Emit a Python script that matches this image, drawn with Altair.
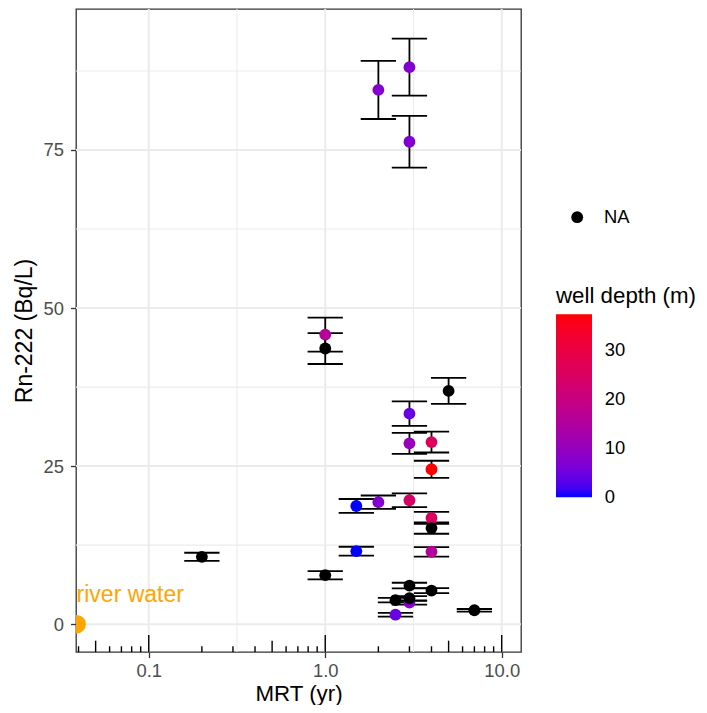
import altair as alt
import pandas as pd

# ---- data ----
mrt = [2.0, 3.0, 3.0, 1.0, 1.0, 5.0, 3.0, 3.0, 4.0, 4.0, 1.5, 2.0, 3.0, 4.0, 4.0,
       1.5, 4.0, 0.2, 1.0, 3.0, 4.0, 2.5, 3.0, 3.0, 2.5, 7.0]
rn = [84.5, 88.1, 76.3, 45.8, 43.6, 36.9, 33.3, 28.6, 28.8, 24.5, 18.7, 19.3, 19.6, 16.8, 15.2,
      11.55, 11.45, 10.65, 7.75, 6.1, 5.3, 3.8, 4.1, 3.4, 1.5, 2.2]
rn_err = [4.6, 4.5, 4.1, 2.7, 2.45, 2.05, 1.95, 1.65, 1.65, 1.35, 1.1, 1.05, 1.1, 0.95, 0.9,
          0.7, 0.75, 0.65, 0.65, 0.45, 0.4, 0.35, 0.35, 0.3, 0.3, 0.2]
depth = [7.5, 7.5, 7.5, 16.0, None, None, 4.5, 10.5, 26.0, 37.2, 0.0, 7.0, 24.5, 25.0, None,
         0.0, 15.5, None, None, None, None, None, None, 8.0, 4.5, None]

river_mrt = [0.039]
river_rn = [0.0]
river_label = ["river water"]
river_label_rn = [4.6]

x_major = [0.1, 1.0, 10.0]
x_minor = [0.316, 3.16]
y_major = [0, 25, 50, 75]
y_minor = [12.5, 37.5, 62.5, 87.5]

logtick_short = [0.04, 0.06, 0.07, 0.08, 0.09, 0.2, 0.3, 0.4, 0.6, 0.7, 0.8, 0.9,
                 2, 3, 4, 6, 7, 8, 9]
logtick_mid = [0.05, 0.5, 5]
logtick_long = [0.1, 1, 10]

# the bottom legend label sits a hair above 0 so it is centred like the others
depth_ticks = [0.02, 10, 20, 30]

# ---- layout / style ----
W, H = 445, 643
FONT = "Liberation Sans"
CAP = 10 ** 0.1  # errorbar cap half-width in log space

df = pd.DataFrame({"mrt": mrt, "rn": rn, "err": rn_err, "depth": depth})
df["lo"] = df["rn"] - df["err"]
df["hi"] = df["rn"] + df["err"]
df["xl"] = df["mrt"] / CAP
df["xr"] = df["mrt"] * CAP
df_col = df[df["depth"].notna()].copy()
df_na = df[df["depth"].isna()].copy()
df_na["na"] = "NA"

xs = alt.Scale(type="log", domain=[0.0387, 12.86], nice=False)
ys = alt.Scale(domain=[-4.4, 97.3], nice=False, zero=False)

x_axis = alt.Axis(values=x_major, format=".1f", grid=False, domain=False,
                  tickSize=5.5, tickWidth=1.3, tickColor="#333333",
                  labelFontSize=18.4, labelColor="#4D4D4D", labelPadding=3.5,
                  title="MRT (yr)", titleFontSize=22.3, titleFontWeight="normal",
                  titleColor="black", titlePadding=3)
y_axis = alt.Axis(values=y_major, grid=False, domain=False,
                  tickSize=5.5, tickWidth=1.3, tickColor="#333333",
                  labelFontSize=18.4, labelColor="#4D4D4D", labelPadding=7,
                  title="Rn-222 (Bq/L)", titleFontSize=23, titleFontWeight="normal",
                  titleColor="black", titlePadding=7)


def X(f):
    return alt.X(f, type="quantitative", scale=xs, axis=x_axis)


def Y(f):
    return alt.Y(f, type="quantitative", scale=ys, axis=y_axis)


grid_c = "#EBEBEB"
g_xmin = alt.Chart(pd.DataFrame({"v": x_minor})).mark_rule(color=grid_c, strokeWidth=1.1).encode(x=X("v"))
g_xmaj = alt.Chart(pd.DataFrame({"v": x_major})).mark_rule(color=grid_c, strokeWidth=2).encode(x=X("v"))
g_ymin = alt.Chart(pd.DataFrame({"v": y_minor})).mark_rule(color=grid_c, strokeWidth=1.1).encode(y=Y("v"))
g_ymaj = alt.Chart(pd.DataFrame({"v": y_major})).mark_rule(color=grid_c, strokeWidth=2).encode(y=Y("v"))

base = alt.Chart(df)
ebar = base.mark_rule(color="black", strokeWidth=1.8).encode(x=X("mrt"), y=Y("lo"), y2="hi")
cap_lo = base.mark_rule(color="black", strokeWidth=1.8).encode(x=X("xl"), x2="xr", y=Y("lo"))
cap_hi = base.mark_rule(color="black", strokeWidth=1.8).encode(x=X("xl"), x2="xr", y=Y("hi"))

pts = alt.Chart(df_col).mark_circle(size=140, opacity=1).encode(
    x=X("mrt"), y=Y("rn"),
    color=alt.Color("depth:Q",
                    scale=alt.Scale(domain=[0, 37.2], range=["blue", "red"], interpolate="lab", nice=False),
                    legend=alt.Legend(title="well depth (m)", orient="none", legendX=480, legendY=276,
                                      direction="vertical", gradientLength=183, gradientThickness=36,
                                      gradientStrokeWidth=0, values=depth_ticks,
                                      labelExpr="format(round(datum.value), 'd')",
                                      titleFontSize=22.3, titleFontWeight="normal", titleColor="black",
                                      titlePadding=7, titleLimit=400, labelFontSize=18.4,
                                      labelColor="black", labelOffset=12.7,
                                      labelOverlap=False, padding=0)),
)

pts_na = alt.Chart(df_na).mark_point(filled=True, size=140, opacity=1, color="black").encode(
    x=X("mrt"), y=Y("rn"),
    shape=alt.Shape("na:N", scale=alt.Scale(domain=["NA"], range=["circle"]),
                    legend=alt.Legend(title=None, orient="none", legendX=492, legendY=199,
                                      symbolSize=140, symbolFillColor="black", symbolStrokeWidth=0,
                                      labelFontSize=18.4, labelColor="black", labelOffset=17.5, padding=0)),
)

river = pd.DataFrame({"x": river_mrt, "y": river_rn, "ly": river_label_rn, "label": river_label})
river_pt = alt.Chart(river).mark_circle(size=346, opacity=1, color="orange", clip=True).encode(x=X("x"), y=Y("y"))
river_txt = alt.Chart(river).mark_text(align="left", baseline="middle", fontSize=23, color="orange").encode(
    x=X("x"), y=Y("ly"), text="label:N")


def logticks(vals, length):
    return alt.Chart(pd.DataFrame({"v": vals})).mark_rule(color="black", strokeWidth=1.4).encode(
        x=X("v"), y=alt.value(H), y2=alt.value(H - length))


chart = alt.layer(
    g_xmin, g_xmaj, g_ymin, g_ymaj,
    ebar, cap_lo, cap_hi,
    pts, pts_na, river_pt, river_txt,
    logticks(logtick_short, 5.7), logticks(logtick_mid, 11.3), logticks(logtick_long, 17),
).properties(
    width=W, height=H,
    autosize=alt.AutoSizeParams(type="none"),
    padding={"left": 68, "top": 1, "right": 178, "bottom": 53},
).configure(font=FONT).configure_view(stroke="#333333", strokeWidth=1.3)

chart.save("out.html", embed_options={"renderer": "svg", "actions": False})
